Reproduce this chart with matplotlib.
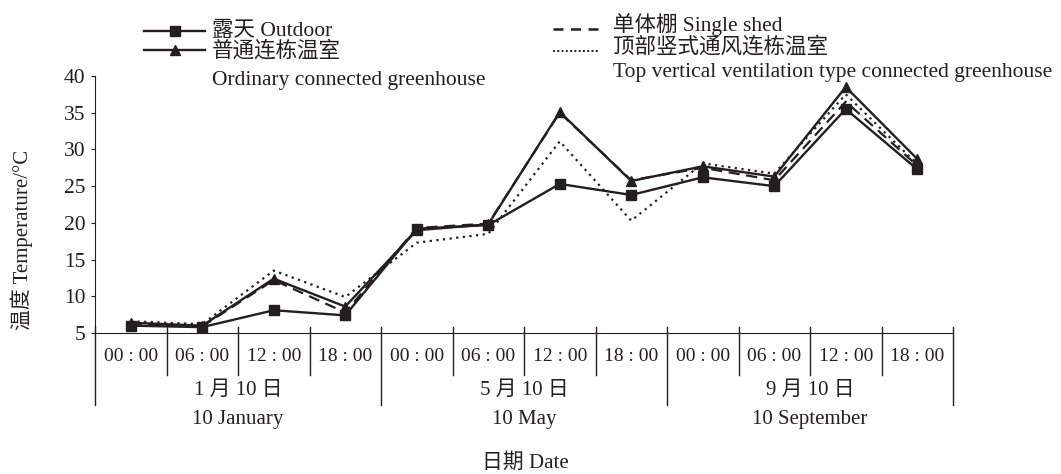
import numpy as np
import matplotlib
matplotlib.use("Agg")
import matplotlib.pyplot as plt
from matplotlib.lines import Line2D

plt.rcParams['font.family'] = ['Liberation Serif', 'Noto Sans CJK SC']

hours = ["00 : 00", "06 : 00", "12 : 00", "18 : 00"]
dates_cn = ["1 月 10 日", "5 月 10 日", "9 月 10 日"]
dates_en = ["10 January", "10 May", "10 September"]

outdoor = [6.0, 5.8, 8.1, 7.4, 19.2, 19.7, 25.3, 23.8, 26.2, 25.0, 35.5, 27.3]
ordinary = [6.4, 6.0, 12.4, 8.6, 19.0, 19.8, 35.1, 25.7, 27.7, 26.3, 38.5, 28.7]
single = [6.3, 5.9, 12.2, 7.8, 19.3, 19.9, 35.0, 25.8, 27.5, 25.8, 36.5, 27.8]
top_vent = [6.6, 6.2, 13.5, 9.9, 17.3, 18.5, 31.1, 20.3, 28.1, 26.7, 37.5, 28.0]

ink = "#231f20"
W, H = 1061, 474
fig = plt.figure(figsize=(W / 100, H / 100), dpi=100)
ax = fig.add_axes([95 / W, 1 - 333 / H, 858 / W, 257 / H])

x = np.arange(len(outdoor))
ax.plot(x, single, color=ink, lw=1.6, ls=(0, (5, 3)))
ax.plot(x, top_vent, color=ink, lw=1.6, ls=(0, (1, 2)))
ax.plot(x, ordinary, color=ink, lw=1.7, marker="^", ms=7)
ax.plot(x, outdoor, color=ink, lw=1.7, marker="s", ms=7)

ax.set_xlim(-0.5, len(x) - 0.5)
ax.set_ylim(5, 40)
ax.set_yticks(np.arange(5, 41, 5))
ax.tick_params(axis="y", labelsize=15.5, length=3, colors=ink, direction="out", pad=4)
ax.set_xticks([])
for s in ["top", "right"]:
    ax.spines[s].set_visible(False)
ax.spines["left"].set_color(ink)
ax.spines["bottom"].set_color(ink)

# category axis: separators and labels
tr = ax.get_xaxis_transform()
n_groups = len(dates_cn)
for i in range(len(x) + 1):
    b = i - 0.5
    low = -0.28 if i % len(hours) == 0 else -0.165
    ax.plot([b, b], [0.022, low], color=ink, lw=1, transform=tr, clip_on=False)
for i in range(len(x)):
    ax.text(i, -0.093, hours[i % len(hours)], transform=tr, ha="center", va="center",
            fontsize=14, color=ink)
for g in range(n_groups):
    c = g * len(hours) + (len(hours) - 1) / 2
    ax.text(c, -0.222, dates_cn[g], transform=tr, ha="center", va="center",
            fontsize=15, color=ink)
    ax.text(c, -0.337, dates_en[g], transform=tr, ha="center", va="center",
            fontsize=15, color=ink)

fig.text(525 / W, 1 - 463 / H, "日期 Date", ha="center", va="center", fontsize=15, color=ink)
fig.text(22 / W, 1 - 240 / H, "温度 Temperature/°C", ha="center", va="center",
         rotation=90, fontsize=15, color=ink)

# legend
def handle(x0, x1, y, **kw):
    fig.add_artist(Line2D([x0 / W, x1 / W], [1 - y / H, 1 - y / H], color=ink,
                          transform=fig.transFigure, **kw))

handle(144, 205, 31, lw=1.7)
fig.add_artist(Line2D([175 / W], [1 - 31 / H], marker="s", ms=7, color=ink,
                      transform=fig.transFigure))
handle(144, 205, 50, lw=1.7)
fig.add_artist(Line2D([175 / W], [1 - 50 / H], marker="^", ms=7, color=ink,
                      transform=fig.transFigure))
handle(553, 600, 29, lw=1.8, ls=(0, (4, 3)))
handle(553, 600, 51, lw=1.4, ls=(0, (1, 1.2)))

lab = dict(ha="left", va="center", fontsize=15.5, color=ink)
fig.text(212 / W, 1 - 31 / H, "露天 Outdoor", **lab)
fig.text(212 / W, 1 - 51 / H, "普通连栋温室", **lab)
fig.text(212 / W, 1 - 81 / H, "Ordinary connected greenhouse", **lab)
fig.text(613 / W, 1 - 24 / H, "单体棚 Single shed", **lab)
fig.text(613 / W, 1 - 47 / H, "顶部竖式通风连栋温室", **lab)
fig.text(613 / W, 1 - 73 / H, "Top vertical ventilation type connected greenhouse", **lab)

fig.savefig("out.png", dpi=100)
